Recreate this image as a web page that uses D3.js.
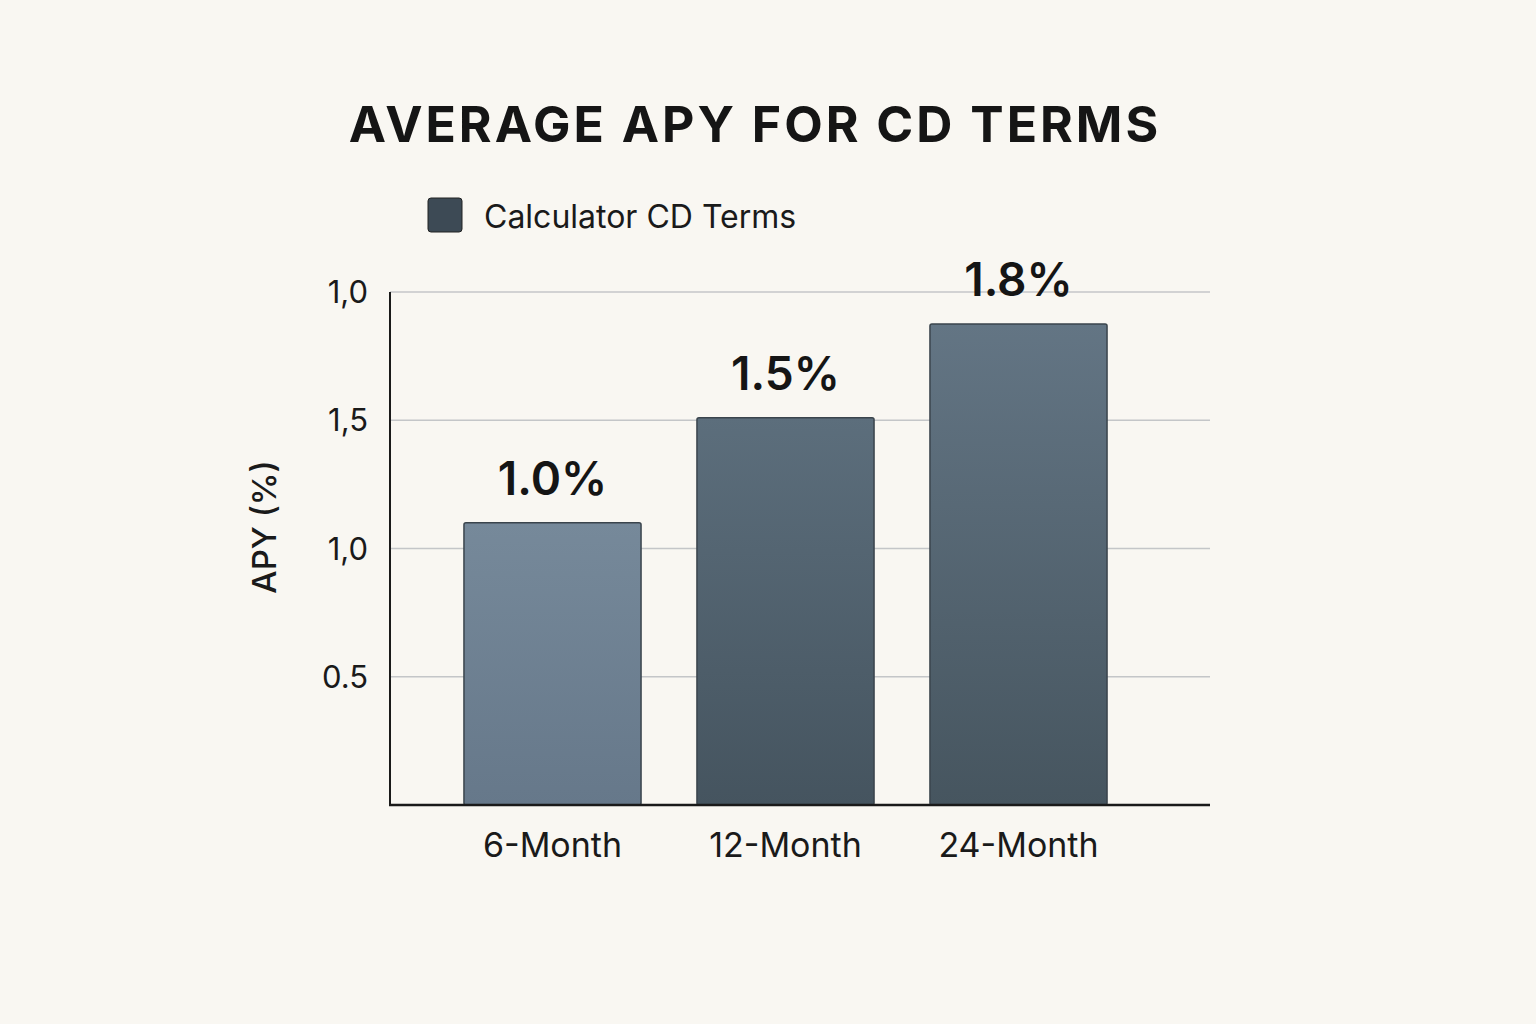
<!DOCTYPE html>
<html>
<head>
<meta charset="utf-8">
<script src="https://cdn.jsdelivr.net/npm/d3@7"></script>
<style>
  body { margin: 0; background: #f9f7f2; }
  svg { display: block; font-family: Inter, "Liberation Sans", sans-serif; }
</style>
</head>
<body>
<div id="chart"></div>
<script>
// data
const terms = ["6-Month", "12-Month", "24-Month"];
const apyValues = [1.1, 1.51, 1.875];       // bar heights as drawn
const valueLabels = ["1.0%", "1.5%", "1.8%"]; // labels printed above bars
const tickValues = [0.5, 1.0, 1.5, 2.0];
const tickLabels = ["0.5", "1,0", "1,5", "1,0"];
const seriesName = "Calculator CD Terms";

const W = 1536, H = 1024;
const svg = d3.select("#chart").append("svg").attr("width", W).attr("height", H);

svg.append("rect").attr("width", W).attr("height", H).attr("fill", "#f9f7f2");

const defs = svg.append("defs");
const grads = [["g0", "#76899a", "#66788a"], ["g1", "#5c6e7c", "#45545f"], ["g2", "#637584", "#46555f"]];
grads.forEach(([id, top, bottom]) => {
  const g = defs.append("linearGradient").attr("id", id).attr("x1", 0).attr("y1", 0).attr("x2", 0).attr("y2", 1);
  g.append("stop").attr("offset", "0%").attr("stop-color", top);
  g.append("stop").attr("offset", "100%").attr("stop-color", bottom);
});

const x = d3.scaleBand().domain(terms).range([436, 1135]).paddingInner(0.24).paddingOuter(0.12);
const y = d3.scaleLinear().domain([0, 2]).range([805, 292]);

// title
svg.append("text").attr("x", 755).attr("y", 142).attr("text-anchor", "middle")
  .attr("font-size", 50).attr("font-weight", 700).attr("letter-spacing", 3).attr("fill", "#151515")
  .text("AVERAGE APY FOR CD TERMS");

// legend
svg.append("rect").attr("x", 428).attr("y", 198).attr("width", 34).attr("height", 34).attr("rx", 3)
  .attr("fill", "#3d4a55").attr("stroke", "#222");
svg.append("text").attr("x", 484).attr("y", 228).attr("font-size", 32).attr("fill", "#1a1a1a").text(seriesName);

// grid
svg.selectAll(".grid").data(tickValues).join("line")
  .attr("x1", 390).attr("x2", 1210).attr("y1", d => y(d)).attr("y2", d => y(d))
  .attr("stroke", "#c4c6c8").attr("stroke-width", 1.5);

svg.selectAll(".tick").data(tickValues).join("text")
  .attr("x", 368).attr("y", d => y(d) + 11).attr("text-anchor", "end")
  .attr("font-size", 31).attr("fill", "#1a1a1a").text((d, i) => tickLabels[i]);

svg.append("text").attr("transform", "translate(276,527) rotate(-90)").attr("text-anchor", "middle")
  .attr("font-size", 33).attr("font-weight", 500).attr("fill", "#1a1a1a").text("APY (%)");

// bars
svg.selectAll(".bar").data(apyValues).join("rect")
  .attr("x", (d, i) => x(terms[i])).attr("width", x.bandwidth())
  .attr("y", d => y(d)).attr("height", d => y(0) - y(d))
  .attr("fill", (d, i) => `url(#g${i})`).attr("stroke", "#3a444c").attr("stroke-width", 1.5).attr("rx", 2);

svg.selectAll(".val").data(apyValues).join("text")
  .attr("x", (d, i) => x(terms[i]) + x.bandwidth() / 2).attr("y", d => y(d) - 28)
  .attr("text-anchor", "middle").attr("font-size", 46).attr("font-weight", 600).attr("fill", "#151515")
  .text((d, i) => valueLabels[i]);

// axes lines
svg.append("line").attr("x1", 390).attr("x2", 390).attr("y1", 292).attr("y2", 806).attr("stroke", "#1a1a1a").attr("stroke-width", 2);
svg.append("line").attr("x1", 389).attr("x2", 1210).attr("y1", 805).attr("y2", 805).attr("stroke", "#1a1a1a").attr("stroke-width", 2.5);

svg.selectAll(".xl").data(terms).join("text")
  .attr("x", d => x(d) + x.bandwidth() / 2).attr("y", 857).attr("text-anchor", "middle")
  .attr("font-size", 34).attr("fill", "#1a1a1a").text(d => d);
</script>
</body>
</html>
